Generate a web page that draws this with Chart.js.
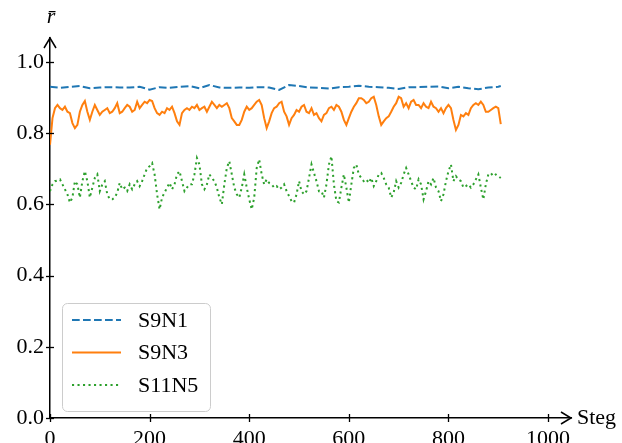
<!DOCTYPE html>
<html lang="sv">
<head>
  <meta charset="UTF-8">
  <title>r-bar per steg</title>
  <script src="https://cdn.jsdelivr.net/npm/chart.js"></script>
  <style>
    body { margin: 0; background: #fff; }
    #wrap { width: 622px; height: 443px; }
  </style>
</head>
<body>
  <div id="wrap"><canvas id="myChart" width="622" height="443"></canvas></div>

  <script>
    const seriesNames = ['S9N1', 'S9N3', 'S11N5'];
    const xTicks = [0, 200, 400, 600, 800, 1000];
    const yTicks = [0, 0.2, 0.4, 0.6, 0.8, 1.0];

    // S9N1 is read every 20 steps, the other two every 5 steps
    const stepsCoarse = [0, 20, 40, 60, 80, 100, 120, 140, 160, 180, 200, 220, 240, 260, 280, 300, 320, 340, 360, 380,
      400, 420, 440, 460, 480, 500, 520, 540, 560, 580, 600, 620, 640, 660, 680, 700, 720, 740, 760, 780,
      800, 820, 840, 860, 880, 900, 905];
    const stepsFine = [0, 5, 10, 15, 20, 25, 30, 35, 40, 45, 50, 55, 60, 65, 70, 75, 80, 85, 90, 95,
      100, 105, 110, 115, 120, 125, 130, 135, 140, 145, 150, 155, 160, 165, 170, 175, 180, 185, 190, 195,
      200, 205, 210, 215, 220, 225, 230, 235, 240, 245, 250, 255, 260, 265, 270, 275, 280, 285, 290, 295,
      300, 305, 310, 315, 320, 325, 330, 335, 340, 345, 350, 355, 360, 365, 370, 375, 380, 385, 390, 395,
      400, 405, 410, 415, 420, 425, 430, 435, 440, 445, 450, 455, 460, 465, 470, 475, 480, 485, 490, 495,
      500, 505, 510, 515, 520, 525, 530, 535, 540, 545, 550, 555, 560, 565, 570, 575, 580, 585, 590, 595,
      600, 605, 610, 615, 620, 625, 630, 635, 640, 645, 650, 655, 660, 665, 670, 675, 680, 685, 690, 695,
      700, 705, 710, 715, 720, 725, 730, 735, 740, 745, 750, 755, 760, 765, 770, 775, 780, 785, 790, 795,
      800, 805, 810, 815, 820, 825, 830, 835, 840, 845, 850, 855, 860, 865, 870, 875, 880, 885, 890, 895,
      900, 905];

    const s9n1 = [0.930, 0.927, 0.930, 0.932, 0.926, 0.928, 0.929, 0.928, 0.928, 0.930,
      0.922, 0.929, 0.927, 0.930, 0.932, 0.926, 0.935, 0.928, 0.927, 0.928,
      0.927, 0.929, 0.928, 0.921, 0.935, 0.932, 0.928, 0.927, 0.925, 0.929,
      0.930, 0.933, 0.930, 0.929, 0.927, 0.924, 0.929, 0.929, 0.930, 0.931,
      0.926, 0.930, 0.926, 0.923, 0.928, 0.930, 0.932];

    const s9n3 = [0.767, 0.842, 0.870, 0.879, 0.870, 0.865, 0.874, 0.860, 0.856, 0.828,
      0.814, 0.823, 0.860, 0.879, 0.890, 0.860, 0.837, 0.860, 0.879, 0.865,
      0.851, 0.860, 0.865, 0.870, 0.856, 0.860, 0.870, 0.884, 0.856, 0.860,
      0.870, 0.879, 0.874, 0.860, 0.865, 0.888, 0.870, 0.879, 0.888, 0.884,
      0.893, 0.890, 0.870, 0.856, 0.851, 0.860, 0.856, 0.870, 0.865, 0.874,
      0.856, 0.833, 0.823, 0.856, 0.865, 0.870, 0.865, 0.874, 0.870, 0.879,
      0.865, 0.870, 0.874, 0.860, 0.874, 0.888, 0.879, 0.870, 0.879, 0.874,
      0.879, 0.884, 0.870, 0.842, 0.833, 0.823, 0.823, 0.837, 0.860, 0.874,
      0.865, 0.870, 0.879, 0.888, 0.893, 0.879, 0.842, 0.814, 0.833, 0.856,
      0.870, 0.874, 0.884, 0.888, 0.860, 0.847, 0.823, 0.842, 0.851, 0.865,
      0.860, 0.874, 0.879, 0.860, 0.856, 0.870, 0.851, 0.856, 0.842, 0.833,
      0.851, 0.856, 0.870, 0.874, 0.865, 0.879, 0.874, 0.860, 0.837, 0.823,
      0.842, 0.860, 0.874, 0.884, 0.898, 0.898, 0.893, 0.884, 0.888, 0.898,
      0.902, 0.879, 0.847, 0.823, 0.833, 0.842, 0.847, 0.860, 0.874, 0.884,
      0.902, 0.898, 0.874, 0.884, 0.870, 0.888, 0.893, 0.879, 0.879, 0.870,
      0.884, 0.874, 0.870, 0.888, 0.874, 0.870, 0.860, 0.870, 0.856, 0.870,
      0.879, 0.870, 0.837, 0.809, 0.823, 0.851, 0.847, 0.856, 0.851, 0.870,
      0.879, 0.884, 0.879, 0.888, 0.879, 0.860, 0.860, 0.865, 0.870, 0.874,
      0.870, 0.825];

    const s11n5 = [0.637, 0.656, 0.665, 0.667, 0.670, 0.656, 0.642, 0.628, 0.605, 0.619,
      0.665, 0.656, 0.619, 0.665, 0.693, 0.665, 0.619, 0.647, 0.674, 0.684,
      0.637, 0.656, 0.665, 0.628, 0.614, 0.614, 0.619, 0.633, 0.660, 0.642,
      0.647, 0.637, 0.656, 0.642, 0.656, 0.665, 0.651, 0.665, 0.684, 0.702,
      0.707, 0.716, 0.684, 0.628, 0.586, 0.619, 0.633, 0.647, 0.660, 0.642,
      0.656, 0.684, 0.693, 0.665, 0.637, 0.647, 0.656, 0.656, 0.684, 0.730,
      0.712, 0.656, 0.642, 0.656, 0.684, 0.674, 0.665, 0.647, 0.619, 0.600,
      0.656, 0.702, 0.721, 0.684, 0.647, 0.628, 0.619, 0.647, 0.684, 0.647,
      0.614, 0.586, 0.619, 0.702, 0.726, 0.684, 0.656, 0.670, 0.660, 0.656,
      0.647, 0.651, 0.642, 0.647, 0.656, 0.637, 0.623, 0.609, 0.605, 0.628,
      0.665, 0.637, 0.628, 0.637, 0.674, 0.712, 0.688, 0.665, 0.637, 0.637,
      0.619, 0.656, 0.712, 0.735, 0.656, 0.609, 0.605, 0.647, 0.684, 0.647,
      0.605, 0.656, 0.702, 0.712, 0.684, 0.674, 0.665, 0.670, 0.660, 0.674,
      0.651, 0.665, 0.684, 0.688, 0.674, 0.656, 0.647, 0.619, 0.633, 0.665,
      0.647, 0.660, 0.684, 0.702, 0.684, 0.665, 0.647, 0.642, 0.670, 0.656,
      0.614, 0.637, 0.665, 0.656, 0.674, 0.647, 0.637, 0.609, 0.628, 0.665,
      0.693, 0.712, 0.665, 0.679, 0.670, 0.665, 0.647, 0.651, 0.656, 0.647,
      0.656, 0.670, 0.684, 0.647, 0.614, 0.656, 0.684, 0.688, 0.679, 0.684,
      0.679, 0.674];

    const serifFont = "'Liberation Serif', 'DejaVu Serif', serif";

    // axis arrows, inout tick marks, axis titles and the framed legend
    const extras = {
      id: 'extras',
      afterDraw(chart) {
        const ctx = chart.ctx;
        const xs = chart.scales.x, ys = chart.scales.y;
        const a = chart.chartArea;
        ctx.save();
        ctx.strokeStyle = '#000';
        ctx.lineWidth = 1.3;

        xTicks.forEach(v => {
          const px = Math.round(xs.getPixelForValue(v)) + 0.5;
          ctx.beginPath(); ctx.moveTo(px, a.bottom - 4); ctx.lineTo(px, a.bottom + 4); ctx.stroke();
        });
        yTicks.forEach(v => {
          const py = Math.round(ys.getPixelForValue(v)) + 0.5;
          ctx.beginPath(); ctx.moveTo(a.left - 4, py); ctx.lineTo(a.left + 4, py); ctx.stroke();
        });

        ctx.lineWidth = 1.5;
        ctx.beginPath();
        ctx.moveTo(a.right - 10, a.bottom - 6); ctx.lineTo(a.right, a.bottom); ctx.lineTo(a.right - 10, a.bottom + 6);
        ctx.stroke();
        ctx.beginPath();
        ctx.moveTo(a.left - 6, a.top + 10); ctx.lineTo(a.left, a.top); ctx.lineTo(a.left + 6, a.top + 10);
        ctx.stroke();

        ctx.fillStyle = '#000';
        ctx.font = '22px ' + serifFont;
        ctx.textBaseline = 'middle';
        ctx.textAlign = 'left';
        ctx.fillText('Steg', a.right + 6, a.bottom);
        ctx.font = 'italic 22px ' + serifFont;
        ctx.textAlign = 'center';
        ctx.fillText('r\u0304', a.left + 1, 17);

        // legend
        const bx = 62.5, by = 303.5, bw = 148, bh = 108;
        ctx.beginPath();
        ctx.roundRect(bx, by, bw, bh, 5);
        ctx.fillStyle = 'rgba(255,255,255,0.8)';
        ctx.fill();
        ctx.strokeStyle = '#cccccc';
        ctx.lineWidth = 1;
        ctx.stroke();

        const rows = [320, 352.5, 385];
        chart.data.datasets.forEach((ds, i) => {
          ctx.beginPath();
          ctx.setLineDash(ds.borderDash || []);
          ctx.strokeStyle = ds.borderColor;
          ctx.lineWidth = ds.borderWidth;
          ctx.moveTo(72, rows[i]); ctx.lineTo(121, rows[i]);
          ctx.stroke();
          ctx.setLineDash([]);
          ctx.fillStyle = '#000';
          ctx.font = '22px ' + serifFont;
          ctx.textAlign = 'left';
          ctx.fillText(ds.label, 138, rows[i] + 1);
        });
        ctx.restore();
      }
    };

    const ctx = document.getElementById('myChart').getContext('2d');
    const myChart = new Chart(ctx, {
      type: 'line',
      data: {
        datasets: [{
          label: seriesNames[0],
          data: stepsCoarse.map((s, i) => ({ x: s, y: s9n1[i] })),
          borderColor: '#1f77b4',
          borderWidth: 2,
          borderDash: [7.7, 3.3]
        },
        {
          label: seriesNames[1],
          data: stepsFine.map((s, i) => ({ x: s, y: s9n3[i] })),
          borderColor: '#ff7f0e',
          borderWidth: 2
        },
        {
          label: seriesNames[2],
          data: stepsFine.map((s, i) => ({ x: s, y: s11n5[i] })),
          borderColor: '#2ca02c',
          borderWidth: 2,
          borderDash: [2.1, 3.4]
        }]
      },
      options: {
        responsive: false,
        animation: false,
        devicePixelRatio: 1,
        layout: { padding: { top: 38, right: 51, left: 0, bottom: 0 } },
        elements: { point: { radius: 0 }, line: { tension: 0 } },
        plugins: { legend: { display: false }, tooltip: { enabled: false } },
        scales: {
          x: {
            type: 'linear',
            min: 0,
            max: 1046,
            afterBuildTicks: s => { s.ticks = xTicks.map(v => ({ value: v })); },
            afterFit: s => { s.height = 25; },
            grid: { display: false, drawTicks: false },
            border: { display: true, color: '#000', width: 1.5 },
            ticks: { color: '#000', padding: 8, maxRotation: 0, font: { family: serifFont, size: 22 },
              callback: v => String(v) }
          },
          y: {
            min: 0,
            max: 1.067,
            afterBuildTicks: s => { s.ticks = yTicks.map(v => ({ value: v })); },
            afterFit: s => { s.width = 50; },
            grid: { display: false, drawTicks: false },
            border: { display: true, color: '#000', width: 1.5 },
            ticks: { color: '#000', padding: 6, font: { family: serifFont, size: 22 },
              callback: v => v.toFixed(1) }
          }
        }
      },
      plugins: [extras]
    });
  </script>
</body>
</html>
